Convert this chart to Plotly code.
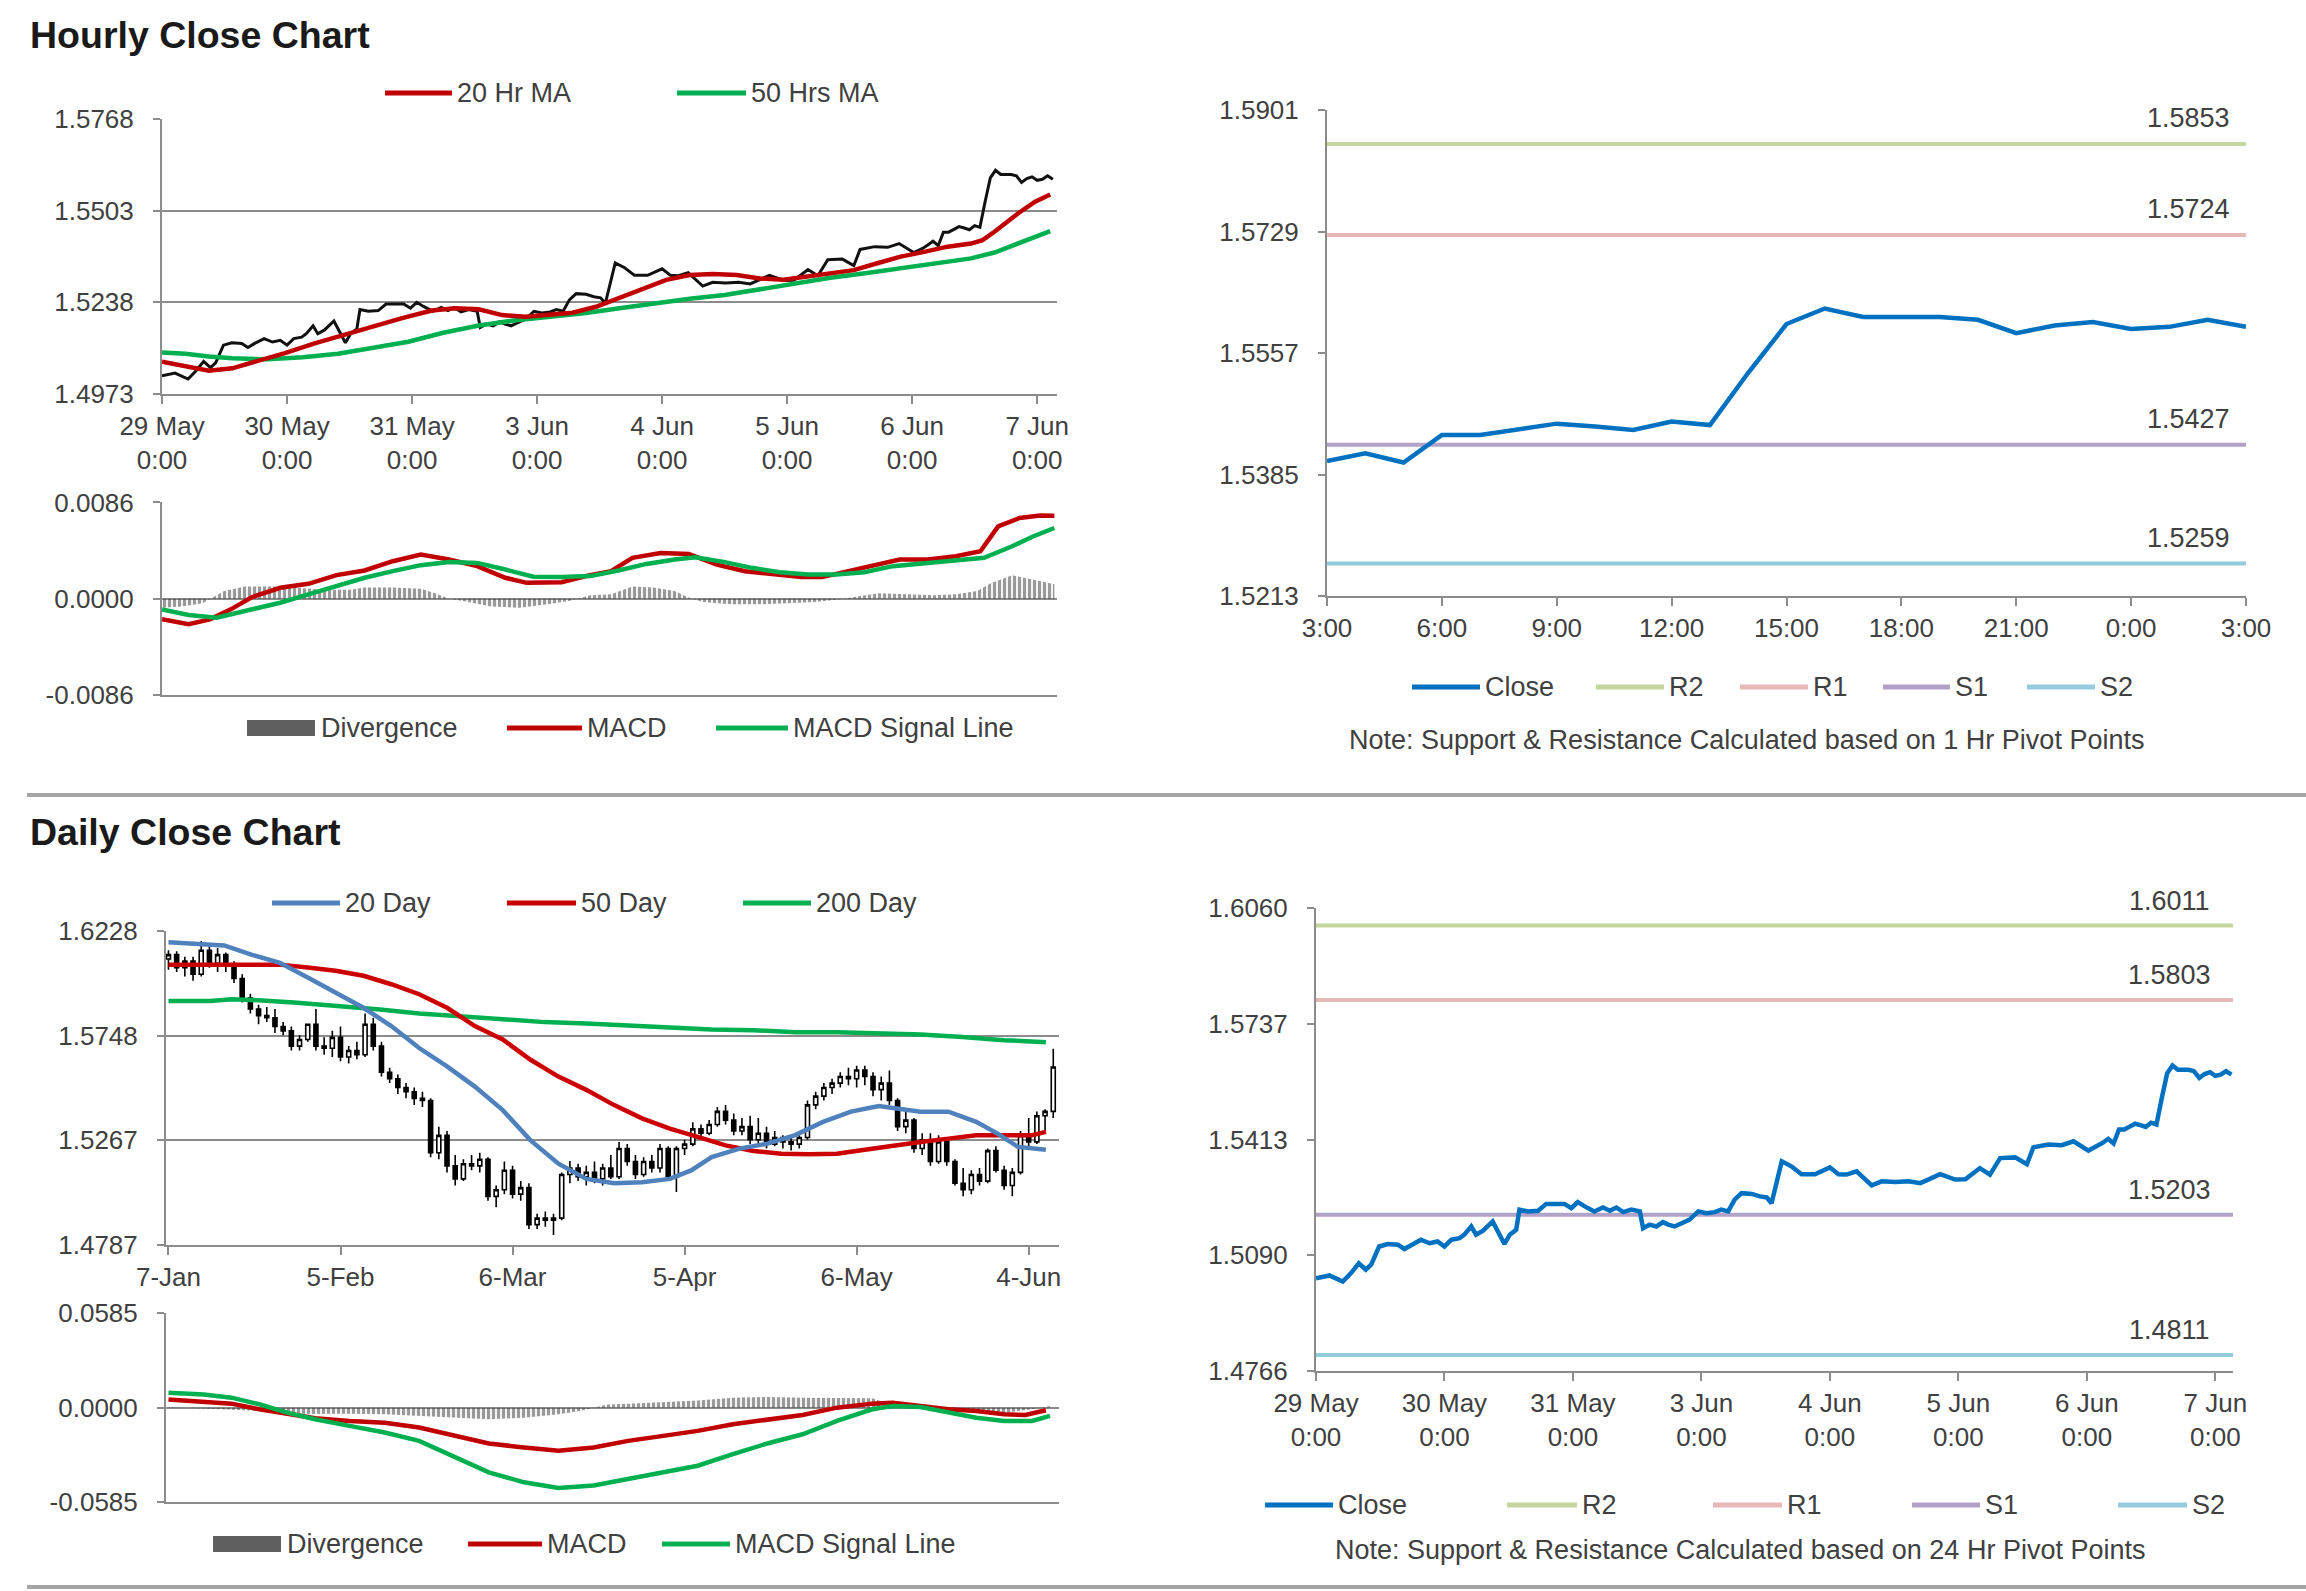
import plotly.graph_objects as go

W, H = 2306, 1591
FONT = "Liberation Sans, Arial, sans-serif"
TXT = "#404040"
GRID = "#8c8c8c"
AXIS = "#8c8c8c"

# ---------------- Hourly data (29 May 0:00 .. 7 Jun 3:00, trading-hour index) -------------
HOURLY_TICKS = [0, 24, 48, 72, 96, 120, 144, 168]
HOURLY_TICK_TEXT = ["29 May<br>0:00", "30 May<br>0:00", "31 May<br>0:00", "3 Jun<br>0:00",
                    "4 Jun<br>0:00", "5 Jun<br>0:00", "6 Jun<br>0:00", "7 Jun<br>0:00"]

CLOSE_EARLY_HOURS = [0, 2.5, 5, 6.5, 8, 9.3, 10.3, 11.8, 13.4, 15.3, 16.5, 17.8, 19.6, 21.2, 22.7,
                     24, 25.3, 26.8, 27.7, 29, 29.9, 31.2, 33, 34.3, 35.2, 36.2, 37.4, 38, 39.6,
                     41.5, 43, 44.6, 46.4, 47.7, 48.9, 50.2, 52, 53.6, 54.9, 56.1, 57.4, 58.9,
                     60.5, 61.1, 62.3, 63.6, 64.8, 65.8, 67, 68.3, 69.8, 71.4, 72.9, 74.5, 75.7,
                     77, 78.2, 79.5, 81.4, 82.9, 84.2, 85.1, 87, 88.8, 90.7, 93.2, 96, 97.6,
                     99.1, 101, 103.8, 105.7, 108.2, 110.7, 112.9, 116.6, 119.4, 121.3, 124,
                     125.9, 127.8, 130.6, 132.8, 134, 136.8, 139.3, 141.5, 144.3, 146]
CLOSE_EARLY = [1.5025, 1.5033, 1.5016, 1.5039, 1.5067, 1.5049, 1.5063, 1.5114, 1.5121, 1.5119,
               1.5107, 1.5119, 1.5133, 1.5123, 1.5128, 1.5114, 1.5133, 1.5137, 1.5147, 1.5170,
               1.5147, 1.5158, 1.5184, 1.5147, 1.5121, 1.5147, 1.5161, 1.5217, 1.5212, 1.5214,
               1.5233, 1.5233, 1.5233, 1.5221, 1.5238, 1.5226, 1.5212, 1.5223, 1.5214, 1.5223,
               1.5210, 1.5217, 1.5212, 1.5165, 1.5175, 1.5170, 1.5182, 1.5175, 1.5170, 1.5179,
               1.5189, 1.5212, 1.5207, 1.5210, 1.5217, 1.5212, 1.5245, 1.5263, 1.5261, 1.5254,
               1.5251, 1.5235, 1.5352, 1.5338, 1.5316, 1.5316, 1.5335, 1.5316, 1.5315, 1.5324,
               1.5285, 1.5296, 1.5294, 1.5296, 1.5291, 1.5316, 1.5301, 1.5302, 1.5333, 1.5315,
               1.5361, 1.5363, 1.5344, 1.5391, 1.5399, 1.5397, 1.5408, 1.5382, 1.5394]

# last 24 hours (6 Jun 3:00 .. 7 Jun 3:00), hour index 147..171
CLOSE_1H_HOURS = list(range(147, 172))
CLOSE_1H = [1.5404, 1.5415, 1.5402, 1.5441, 1.5441, 1.5449, 1.5457, 1.5453, 1.5448, 1.5460,
            1.5455, 1.5529, 1.5598, 1.5620, 1.5608, 1.5608, 1.5608, 1.5604, 1.5585, 1.5596,
            1.5601, 1.5591, 1.5594, 1.5604, 1.5594]

MA20_H_HOURS = [0, 4.5, 9, 13.5, 18, 23.6, 29.3, 34.9, 40.5, 46.1, 51.8, 56.3, 60.8, 65.3, 69.8,
                74.3, 78.8, 83.3, 87.8, 92.3, 96.8, 101.3, 105.8, 110.3, 114.8, 119.3, 123.8,
                128.3, 132.8, 137.3, 141.8, 146.3, 150.8, 155.3, 157.5, 159.8, 164.3, 167.6, 170.5]
MA20_H = [1.5066, 1.5052, 1.5040, 1.5047, 1.5066, 1.5091, 1.5119, 1.5144, 1.5168, 1.5192,
          1.5214, 1.5221, 1.5218, 1.5201, 1.5196, 1.5201, 1.5208, 1.5225, 1.5250, 1.5278,
          1.5303, 1.5317, 1.5320, 1.5317, 1.5307, 1.5303, 1.5312, 1.5322, 1.5331, 1.5351,
          1.5370, 1.5384, 1.5399, 1.5408, 1.5418, 1.5442, 1.5495, 1.5529, 1.5550]

MA50_H_HOURS = [0, 4.5, 9, 13.5, 20.3, 27, 33.8, 40.5, 47.3, 54, 60.8, 67.5, 74.3, 81, 87.8,
                94.5, 101.3, 108, 114.8, 121.5, 128.3, 135, 141.8, 148.5, 155.3, 159.8, 164.3,
                167.6, 170.5]
MA50_H = [1.5093, 1.5089, 1.5081, 1.5076, 1.5073, 1.5079, 1.5089, 1.5105, 1.5124, 1.5150,
          1.5171, 1.5185, 1.5195, 1.5206, 1.5221, 1.5235, 1.5248, 1.5259, 1.5276, 1.5293,
          1.5309, 1.5322, 1.5336, 1.5349, 1.5365, 1.5382, 1.5408, 1.5430, 1.5444]

MACD_H_HOURS = [0, 5.1, 9.2, 13.2, 17.3, 22.7, 28.1, 33.5, 38.9, 44.3, 49.7, 55.1, 60.5, 65.9,
                70, 76.7, 82.2, 86.2, 90.3, 95.7, 101.1, 106.5, 111.9, 117.3, 122.7, 126.7,
                130.8, 136.2, 141.6, 147, 152.4, 157.1, 160.5, 164.6, 168.6, 171.3]
MACD_H = [-0.00184, -0.00228, -0.00184, -0.00095, 0.00015, 0.00098, 0.00133, 0.00211, 0.00252,
          0.00335, 0.00394, 0.00350, 0.00291, 0.00187, 0.00142, 0.00148, 0.00211, 0.00246,
          0.00365, 0.00409, 0.00400, 0.00305, 0.00246, 0.00222, 0.00193, 0.00193, 0.00237,
          0.00300, 0.00350, 0.00350, 0.00380, 0.00424, 0.00646, 0.00721, 0.00744, 0.00741]

SIGNAL_H_HOURS = [0, 5.1, 10.5, 15.9, 22.7, 28.1, 33.5, 38.9, 44.3, 49.7, 55.1, 60.5, 65.9,
                  71.3, 76.7, 82.2, 87.6, 93, 98.4, 102.4, 107.8, 113.2, 118.6, 124, 129.4,
                  134.8, 140.3, 147, 152.4, 157.8, 163.2, 167.3, 171.3]
SIGNAL_H = [-0.00095, -0.00145, -0.00169, -0.00110, -0.00036, 0.00039, 0.00113, 0.00187,
            0.00246, 0.00300, 0.00329, 0.00320, 0.00261, 0.00196, 0.00193, 0.00202, 0.00252,
            0.00311, 0.00350, 0.00371, 0.00329, 0.00276, 0.00237, 0.00216, 0.00216, 0.00237,
            0.00291, 0.00320, 0.00341, 0.00365, 0.00469, 0.00558, 0.00632]

DIV_H_HOURS = [0, 3.8, 7.8, 11.9, 15.9, 22.7, 25.4, 30.8, 36.2, 38.9, 44.3, 49.7, 52.4, 55.1,
               57.8, 63.2, 68.6, 74, 78.1, 82.2, 86.2, 90.3, 94.3, 98.4, 101.1, 103.8, 109.2,
               114.6, 120, 125.4, 129.4, 133.5, 137.5, 143, 148.4, 152.4, 156.5, 159.2, 163.2,
               167.3, 171.3]
DIV_H = [-0.0008, -0.0007, -0.0004, 0.0007, 0.0011, 0.0011, 0.0010, 0.0008, 0.0008, 0.0010,
         0.0010, 0.0009, 0.0005, 0.0000, -0.0002, -0.0007, -0.0008, -0.0005, -0.0002, 0.0003,
         0.0004, 0.0011, 0.0010, 0.0007, 0.0001, -0.0003, -0.0005, -0.0005, -0.0004, -0.0003,
         -0.0001, 0.0002, 0.0005, 0.0004, 0.0003, 0.0004, 0.0007, 0.0014, 0.0021, 0.0017, 0.0013]

# 1 Hr pivot chart
PIVOT_1H_TICKS = [0, 3, 6, 9, 12, 15, 18, 21, 24]
PIVOT_1H_TICK_TEXT = ["3:00", "6:00", "9:00", "12:00", "15:00", "18:00", "21:00", "0:00", "3:00"]
PIVOT_1H_X = list(range(25))
LEVELS_1H = {"R2": 1.5853, "R1": 1.5724, "S1": 1.5427, "S2": 1.5259}
LEVELS_24H = {"R2": 1.6011, "R1": 1.5803, "S1": 1.5203, "S2": 1.4811}

# ---------------- Daily data (trading-day index, 7-Jan .. 6-Jun) ----------------
DAILY_TICKS = [0, 21, 42, 63, 84, 105]
DAILY_TICK_TEXT = ["7-Jan", "5-Feb", "6-Mar", "5-Apr", "6-May", "4-Jun"]

D_OPEN = [1.6100, 1.6120, 1.6060, 1.6090, 1.6030, 1.6140, 1.6080, 1.6120, 1.6070, 1.6010,
          1.5920, 1.5870, 1.5840, 1.5830, 1.5790, 1.5770, 1.5700, 1.5730, 1.5800, 1.5700,
          1.5690, 1.5740, 1.5650, 1.5680, 1.5660, 1.5800, 1.5700, 1.5580, 1.5550, 1.5510,
          1.5490, 1.5460, 1.5450, 1.5210, 1.5290, 1.5150, 1.5090, 1.5160, 1.5150, 1.5180,
          1.5010, 1.5040, 1.5130, 1.5020, 1.5050, 1.4880, 1.4910, 1.4900, 1.4910, 1.5110,
          1.5140, 1.5100, 1.5120, 1.5090, 1.5140, 1.5100, 1.5230, 1.5170, 1.5110, 1.5170,
          1.5140, 1.5230, 1.5100, 1.5230, 1.5250, 1.5320, 1.5300, 1.5340, 1.5400, 1.5360,
          1.5310, 1.5330, 1.5270, 1.5300, 1.5250, 1.5280, 1.5260, 1.5250, 1.5280, 1.5430,
          1.5470, 1.5510, 1.5530, 1.5560, 1.5550, 1.5590, 1.5560, 1.5500, 1.5530, 1.5450,
          1.5330, 1.5360, 1.5230, 1.5270, 1.5170, 1.5260, 1.5170, 1.5070, 1.5040, 1.5110,
          1.5080, 1.5220, 1.5130, 1.5060, 1.5120, 1.5290, 1.5260, 1.5380, 1.5400]
D_HIGH = [1.6140, 1.6135, 1.6110, 1.6110, 1.6182, 1.6160, 1.6150, 1.6130, 1.6090, 1.6030,
          1.5940, 1.5890, 1.5880, 1.5870, 1.5810, 1.5790, 1.5750, 1.5800, 1.5870, 1.5740,
          1.5770, 1.5790, 1.5700, 1.5720, 1.5850, 1.5830, 1.5720, 1.5600, 1.5570, 1.5530,
          1.5510, 1.5490, 1.5460, 1.5330, 1.5310, 1.5200, 1.5180, 1.5200, 1.5210, 1.5190,
          1.5060, 1.5170, 1.5150, 1.5080, 1.5070, 1.4930, 1.4940, 1.4930, 1.5120, 1.5172,
          1.5160, 1.5150, 1.5170, 1.5160, 1.5200, 1.5260, 1.5250, 1.5200, 1.5190, 1.5200,
          1.5250, 1.5240, 1.5240, 1.5270, 1.5350, 1.5340, 1.5360, 1.5420, 1.5430, 1.5390,
          1.5370, 1.5380, 1.5370, 1.5330, 1.5310, 1.5290, 1.5280, 1.5290, 1.5450, 1.5490,
          1.5530, 1.5550, 1.5580, 1.5600, 1.5610, 1.5610, 1.5580, 1.5560, 1.5588, 1.5460,
          1.5400, 1.5370, 1.5300, 1.5300, 1.5290, 1.5270, 1.5180, 1.5140, 1.5130, 1.5140,
          1.5230, 1.5240, 1.5150, 1.5140, 1.5310, 1.5370, 1.5400, 1.5410, 1.5688]
D_LOW = [1.6050, 1.6040, 1.6020, 1.6000, 1.6020, 1.6060, 1.6040, 1.6040, 1.5990, 1.5900,
         1.5850, 1.5800, 1.5810, 1.5760, 1.5750, 1.5680, 1.5680, 1.5720, 1.5680, 1.5660,
         1.5650, 1.5630, 1.5620, 1.5640, 1.5650, 1.5680, 1.5560, 1.5530, 1.5480, 1.5460,
         1.5430, 1.5420, 1.5190, 1.5180, 1.5120, 1.5060, 1.5080, 1.5130, 1.5120, 1.4990,
         1.4960, 1.5020, 1.5000, 1.4990, 1.4860, 1.4860, 1.4870, 1.4833, 1.4900, 1.5070,
         1.5080, 1.5060, 1.5070, 1.5060, 1.5090, 1.5090, 1.5150, 1.5090, 1.5100, 1.5120,
         1.5120, 1.5090, 1.5030, 1.5200, 1.5240, 1.5270, 1.5290, 1.5330, 1.5340, 1.5290,
         1.5290, 1.5250, 1.5240, 1.5230, 1.5240, 1.5230, 1.5220, 1.5230, 1.5270, 1.5410,
         1.5450, 1.5480, 1.5510, 1.5520, 1.5510, 1.5520, 1.5470, 1.5450, 1.5430, 1.5310,
         1.5300, 1.5210, 1.5200, 1.5150, 1.5160, 1.5150, 1.5060, 1.5010, 1.5020, 1.5060,
         1.5070, 1.5120, 1.5040, 1.5010, 1.5110, 1.5230, 1.5250, 1.5310, 1.5370]
D_CLOSE = [1.6120, 1.6060, 1.6090, 1.6030, 1.6140, 1.6080, 1.6120, 1.6070, 1.6010, 1.5920,
           1.5870, 1.5840, 1.5830, 1.5790, 1.5770, 1.5700, 1.5730, 1.5800, 1.5700, 1.5690,
           1.5740, 1.5650, 1.5680, 1.5660, 1.5800, 1.5700, 1.5580, 1.5550, 1.5510, 1.5490,
           1.5460, 1.5450, 1.5210, 1.5290, 1.5150, 1.5090, 1.5160, 1.5150, 1.5180, 1.5010,
           1.5040, 1.5130, 1.5020, 1.5050, 1.4880, 1.4910, 1.4900, 1.4910, 1.5110, 1.5140,
           1.5100, 1.5120, 1.5090, 1.5140, 1.5100, 1.5230, 1.5170, 1.5110, 1.5170, 1.5140,
           1.5230, 1.5100, 1.5230, 1.5250, 1.5320, 1.5300, 1.5340, 1.5400, 1.5360, 1.5310,
           1.5330, 1.5270, 1.5300, 1.5250, 1.5280, 1.5260, 1.5250, 1.5280, 1.5430, 1.5470,
           1.5510, 1.5530, 1.5560, 1.5550, 1.5590, 1.5560, 1.5500, 1.5530, 1.5450, 1.5330,
           1.5360, 1.5230, 1.5270, 1.5170, 1.5260, 1.5170, 1.5070, 1.5040, 1.5110, 1.5080,
           1.5220, 1.5130, 1.5060, 1.5120, 1.5290, 1.5260, 1.5380, 1.5400, 1.5604]

MA20_D_X = [0, 3.4, 6.8, 10.2, 13.6, 17, 20.4, 23.8, 27.2, 30.6, 34, 37.4, 40.8, 44.2, 47.6, 51,
            54.4, 57.8, 61.2, 63.8, 66.3, 69.7, 73.1, 76.5, 79.9, 83.3, 86.7, 89.3, 91.8, 95.2,
            98.6, 101.2, 103.7, 107.1]
MA20_D = [1.6177, 1.6169, 1.6162, 1.6119, 1.6082, 1.6015, 1.5946, 1.5876, 1.5792, 1.5691,
          1.5607, 1.5514, 1.5406, 1.5267, 1.5160, 1.5090, 1.5070, 1.5075, 1.5090, 1.5129,
          1.5190, 1.5229, 1.5252, 1.5291, 1.5352, 1.5399, 1.5425, 1.5414, 1.5399, 1.5399,
          1.5352, 1.5298, 1.5237, 1.5224]
MA50_D_X = [0, 5.1, 10.2, 13.6, 17, 20.4, 23.8, 27.2, 30.6, 34, 37.4, 40.8, 44.2, 47.6, 51,
            54.4, 57.8, 61.2, 64.6, 68, 71.4, 74.8, 78.2, 81.6, 85, 88.4, 91.8, 95.2, 98.6, 102,
            105.4, 107.1]
MA50_D = [1.6074, 1.6074, 1.6074, 1.6074, 1.6061, 1.6046, 1.6023, 1.5984, 1.5938, 1.5876,
          1.5792, 1.5730, 1.5637, 1.5560, 1.5499, 1.5429, 1.5368, 1.5321, 1.5283, 1.5244,
          1.5218, 1.5206, 1.5203, 1.5206, 1.5224, 1.5244, 1.5260, 1.5275, 1.5291, 1.5291,
          1.5291, 1.5306]
MA200_D_X = [0, 5.1, 7.7, 10.2, 15.3, 20.4, 25.5, 30.6, 35.7, 40.8, 45.9, 51, 56.1, 61.2, 66.3,
             71.4, 76.5, 81.6, 86.7, 91.8, 96.9, 102, 107.1]
MA200_D = [1.5907, 1.5907, 1.5915, 1.5912, 1.5900, 1.5887, 1.5869, 1.5850, 1.5838, 1.5826,
           1.5810, 1.5804, 1.5795, 1.5787, 1.5776, 1.5773, 1.5764, 1.5764, 1.5761, 1.5753,
           1.5742, 1.5727, 1.5718]

MACD_D_X = [0, 4.3, 7.7, 11.1, 14.5, 17.9, 22.1, 26.4, 30.6, 34.9, 39.1, 43.4, 47.6, 51.9,
            56.1, 60.4, 64.6, 68.9, 73.1, 77.4, 81.6, 85.9, 88.4, 91.8, 95.2, 98.6, 102, 104.6,
            107.1]
MACD_D = [0.0051, 0.0037, 0.0025, -0.0010, -0.0041, -0.0066, -0.0082, -0.0093, -0.0123,
          -0.0175, -0.0222, -0.0247, -0.0267, -0.0247, -0.0206, -0.0175, -0.0144, -0.0103,
          -0.0072, -0.0045, 0.0000, 0.0025, 0.0031, 0.0010, -0.0010, -0.0021, -0.0041,
          -0.0045, -0.0016]
SIGNAL_D_X = [0, 4.3, 7.7, 11.1, 14.5, 17.9, 22.1, 26.4, 30.6, 34.9, 39.1, 43.4, 47.6, 51.9,
              56.1, 60.4, 64.6, 68.9, 73.1, 77.4, 81.6, 85.9, 88.4, 91.8, 95.2, 98.6, 102, 105.4,
              107.6]
SIGNAL_D = [0.0093, 0.0082, 0.0062, 0.0021, -0.0031, -0.0072, -0.0113, -0.0154, -0.0206,
            -0.0308, -0.0401, -0.0463, -0.0498, -0.0483, -0.0442, -0.0395, -0.0360, -0.0288,
            -0.0222, -0.0165, -0.0082, -0.0010, 0.0010, 0.0004, -0.0031, -0.0062, -0.0082,
            -0.0082, -0.0051]
DIV_D_X = [0, 7.7, 11.1, 13.6, 17.9, 22.1, 26.4, 30.6, 34.9, 39.1, 43.4, 47.6, 50.2, 53.6,
           56.1, 60.4, 64.6, 68.9, 73.1, 77.4, 81.6, 85.9, 88.4, 91.8, 95.2, 98.6, 102, 105.4,
           107.6]
DIV_D = [0.0004, -0.0010, -0.0020, -0.0040, -0.0037, -0.0037, -0.0041, -0.0051, -0.0062,
         -0.0072, -0.0062, -0.0041, -0.0020, 0.0020, 0.0025, 0.0037, 0.0045, 0.0062, 0.0066,
         0.0062, 0.0062, 0.0058, 0.0016, 0.0004, -0.0016, -0.0025, -0.0031, -0.0010, 0.0010]

# ---------------- colours ----------------
RED = "#c00000"
GREEN = "#00b050"
BLUE20 = "#4f81bd"
CLOSE_BLUE = "#0070c0"
LEVEL_COLORS = {"R2": "#c3d69b", "R1": "#e6b9b8", "S1": "#b3a2c7", "S2": "#93cddd"}
DIV_GRAY = "#333333"


def dom_x(a, b):
    return [a / W, b / W]


def dom_y(top, bottom):
    return [1 - bottom / H, 1 - top / H]


fig = go.Figure()


def line(x, y, color, width, ax, name):
    fig.add_trace(go.Scatter(x=x, y=y, mode="lines", name=name, showlegend=False,
                             line=dict(color=color, width=width),
                             xaxis="x" + ax, yaxis="y" + ax))


def divergence(x, y, ax):
    fig.add_trace(go.Scatter(x=x, y=y, mode="lines", name="Divergence", showlegend=False,
                             fill="tozeroy", fillcolor="rgba(255,255,255,0)",
                             fillpattern=dict(shape="|", fgcolor=DIV_GRAY, size=5, solidity=0.65),
                             line=dict(width=0, color=DIV_GRAY),
                             xaxis="x" + ax, yaxis="y" + ax))


# Panel 1: hourly price
close_hours = CLOSE_EARLY_HOURS + CLOSE_1H_HOURS
close_vals = CLOSE_EARLY + CLOSE_1H
line(close_hours, close_vals, "#111111", 3, "", "Hourly Close")
line(MA50_H_HOURS, MA50_H, GREEN, 4.5, "", "50 Hrs MA")
line(MA20_H_HOURS, MA20_H, RED, 4.5, "", "20 Hr MA")

# Panel 2: hourly MACD
divergence(DIV_H_HOURS, DIV_H, "2")
line(MACD_H_HOURS, MACD_H, RED, 4.5, "2", "MACD")
line(SIGNAL_H_HOURS, SIGNAL_H, GREEN, 4.5, "2", "MACD Signal Line")

# Panel 3: 1 hr pivot
for k in ["R2", "R1", "S1", "S2"]:
    line([PIVOT_1H_X[0], PIVOT_1H_X[-1]], [LEVELS_1H[k], LEVELS_1H[k]], LEVEL_COLORS[k], 4, "3", k)
line(PIVOT_1H_X, CLOSE_1H, CLOSE_BLUE, 4.5, "3", "Close")

# Panel 4: daily candles + MAs
fig.add_trace(go.Candlestick(x=list(range(len(D_CLOSE))), open=D_OPEN, high=D_HIGH, low=D_LOW,
                             close=D_CLOSE, showlegend=False, whiskerwidth=0,
                             increasing=dict(line=dict(color="black", width=1.6), fillcolor="white"),
                             decreasing=dict(line=dict(color="black", width=1.6), fillcolor="black"),
                             xaxis="x4", yaxis="y4"))
line(MA200_D_X, MA200_D, GREEN, 4.5, "4", "200 Day")
line(MA50_D_X, MA50_D, "#cc0000", 4.5, "4", "50 Day")
line(MA20_D_X, MA20_D, BLUE20, 4.5, "4", "20 Day")

# Panel 5: daily MACD
divergence(DIV_D_X, DIV_D, "5")
line(MACD_D_X, MACD_D, RED, 4.5, "5", "MACD")
line(SIGNAL_D_X, SIGNAL_D, GREEN, 4.5, "5", "MACD Signal Line")

# Panel 6: 24 hr pivot
for k in ["R2", "R1", "S1", "S2"]:
    line([0, 171.3], [LEVELS_24H[k], LEVELS_24H[k]], LEVEL_COLORS[k], 4, "6", k)
line(close_hours, close_vals, CLOSE_BLUE, 4.5, "6", "Close")


def xaxis(domain, anchor, rng, tickvals=None, ticktext=None, labels=True, showline=True, **kw):
    d = dict(domain=domain, anchor=anchor, range=rng, showgrid=False, zeroline=False,
             showline=showline, linecolor=AXIS, linewidth=2, automargin=False,
             ticks="outside" if labels else "", tickcolor=AXIS, tickwidth=2, ticklen=8,
             tickvals=tickvals, ticktext=ticktext, showticklabels=labels,
             tickfont=dict(family=FONT, size=26, color=TXT), fixedrange=True)
    d.update(kw)
    return d


def yaxis(domain, anchor, rng, tickvals, ticktext, grid=True, **kw):
    d = dict(domain=domain, anchor=anchor, range=rng, showgrid=grid, gridcolor=GRID, gridwidth=2,
             zeroline=False, showline=True, linecolor=AXIS, linewidth=2, automargin=False,
             ticks="outside", tickcolor=AXIS, tickwidth=2, ticklen=7,
             tickvals=tickvals, ticktext=ticktext, ticklabelstandoff=14,
             tickfont=dict(family=FONT, size=26, color=TXT), fixedrange=True)
    d.update(kw)
    return d


EPS = 0.00004
fig.update_layout(
    width=W, height=H, margin=dict(l=0, r=0, t=0, b=0, autoexpand=False),
    paper_bgcolor="white", plot_bgcolor="white", showlegend=False,
    xaxis=xaxis(dom_x(162, 1057), "y", [0, 171.8], HOURLY_TICKS, HOURLY_TICK_TEXT),
    yaxis=yaxis(dom_y(119, 394), "x", [1.4973 - EPS, 1.5768 + EPS],
                [1.4973, 1.5238, 1.5503, 1.5768], ["1.4973", "1.5238", "1.5503", "1.5768"]),
    xaxis2=xaxis(dom_x(162, 1057), "y2", [0, 171.8], labels=False, showline=True),
    yaxis2=yaxis(dom_y(502, 695), "x2", [-0.0086, 0.0086 + EPS],
                 [-0.0086, 0.0, 0.0086], ["-0.0086", "0.0000", "0.0086"]),
    xaxis3=xaxis(dom_x(1327, 2246), "y3", [0, 24], PIVOT_1H_TICKS, PIVOT_1H_TICK_TEXT),
    yaxis3=yaxis(dom_y(110, 596), "x3", [1.5213, 1.5901],
                 [1.5213, 1.5385, 1.5557, 1.5729, 1.5901],
                 ["1.5213", "1.5385", "1.5557", "1.5729", "1.5901"], grid=False),
    xaxis4=xaxis(dom_x(166, 1059), "y4", [-0.3, 108.7], DAILY_TICKS, DAILY_TICK_TEXT,
                 rangeslider=dict(visible=False)),
    yaxis4=yaxis(dom_y(931, 1245), "x4", [1.4787 - EPS, 1.6228 + EPS],
                 [1.4787, 1.5267, 1.5748, 1.6228], ["1.4787", "1.5267", "1.5748", "1.6228"]),
    xaxis5=xaxis(dom_x(166, 1059), "y5", [-0.3, 108.7], labels=False, showline=True),
    yaxis5=yaxis(dom_y(1313, 1502), "x5", [-0.0585, 0.0585 + 0.0002],
                 [-0.0585, 0.0, 0.0585], ["-0.0585", "0.0000", "0.0585"]),
    xaxis6=xaxis(dom_x(1316, 2233), "y6", [0, 171.3], HOURLY_TICKS, HOURLY_TICK_TEXT),
    yaxis6=yaxis(dom_y(908, 1371), "x6", [1.4766, 1.6060],
                 [1.4766, 1.5090, 1.5413, 1.5737, 1.6060],
                 ["1.4766", "1.5090", "1.5413", "1.5737", "1.6060"], grid=False),
)

annotations = []
shapes = []


def txt(x, y, s, size=26, anchor="left", bold=False, color=TXT):
    annotations.append(dict(xref="paper", yref="paper", x=x / W, y=1 - y / H, text=s,
                            showarrow=False, xanchor=anchor, yanchor="middle",
                            font=dict(family=FONT, size=size, color=color,
                                      weight="bold" if bold else "normal")))


def leg_line(x0, x1, y, color, label):
    shapes.append(dict(type="line", xref="paper", yref="paper", x0=x0 / W, x1=x1 / W,
                       y0=1 - y / H, y1=1 - y / H, line=dict(color=color, width=5)))
    txt(x1 + 3, y, label, size=27)


def leg_box(x0, x1, y, label):
    shapes.append(dict(type="rect", xref="paper", yref="paper", x0=x0 / W, x1=x1 / W,
                       y0=1 - (y + 8) / H, y1=1 - (y - 8) / H, fillcolor="#5f5f5f",
                       line=dict(width=0)))
    txt(x1 + 4, y, label, size=27)


# titles
txt(28, 35, "Hourly Close Chart", size=37.5, bold=True, color="#1a1a1a")
txt(28, 832, "Daily Close Chart", size=37.5, bold=True, color="#1a1a1a")

# separators
shapes.append(dict(type="line", xref="paper", yref="paper", x0=27 / W, x1=1.0,
                   y0=1 - 795 / H, y1=1 - 795 / H, line=dict(color="#a6a6a6", width=4)))
shapes.append(dict(type="line", xref="paper", yref="paper", x0=27 / W, x1=1.0,
                   y0=1 - 1587 / H, y1=1 - 1587 / H, line=dict(color="#a6a6a6", width=4)))

# legends
leg_line(385, 452, 93, RED, "20 Hr MA")
leg_line(677, 746, 93, GREEN, "50 Hrs MA")
leg_box(247, 315, 728, "Divergence")
leg_line(507, 582, 728, RED, "MACD")
leg_line(716, 788, 728, GREEN, "MACD Signal Line")
leg_line(1412, 1480, 687, CLOSE_BLUE, "Close")
leg_line(1596, 1664, 687, LEVEL_COLORS["R2"], "R2")
leg_line(1740, 1808, 687, LEVEL_COLORS["R1"], "R1")
leg_line(1883, 1950, 687, LEVEL_COLORS["S1"], "S1")
leg_line(2027, 2095, 687, LEVEL_COLORS["S2"], "S2")
txt(1746, 740, "Note: Support &amp; Resistance Calculated based on 1 Hr Pivot Points", size=27,
    anchor="center")

leg_line(272, 340, 903, BLUE20, "20 Day")
leg_line(507, 576, 903, "#cc0000", "50 Day")
leg_line(743, 811, 903, GREEN, "200 Day")
leg_box(213, 281, 1544, "Divergence")
leg_line(468, 542, 1544, RED, "MACD")
leg_line(662, 730, 1544, GREEN, "MACD Signal Line")
leg_line(1265, 1333, 1505, CLOSE_BLUE, "Close")
leg_line(1507, 1577, 1505, LEVEL_COLORS["R2"], "R2")
leg_line(1713, 1782, 1505, LEVEL_COLORS["R1"], "R1")
leg_line(1912, 1980, 1505, LEVEL_COLORS["S1"], "S1")
leg_line(2118, 2187, 1505, LEVEL_COLORS["S2"], "S2")
txt(1740, 1550, "Note: Support &amp; Resistance Calculated based on 24 Hr Pivot Points", size=27,
    anchor="center")

# pivot data labels
for k, v in LEVELS_1H.items():
    annotations.append(dict(xref="x3", yref="y3", x=22.5, y=v, text=f"{v:.4f}", showarrow=False,
                            xanchor="center", yanchor="middle", yshift=26,
                            font=dict(family=FONT, size=27, color=TXT)))
for k, v in LEVELS_24H.items():
    annotations.append(dict(xref="x6", yref="y6", x=159.5, y=v, text=f"{v:.4f}", showarrow=False,
                            xanchor="center", yanchor="middle", yshift=25,
                            font=dict(family=FONT, size=27, color=TXT)))

fig.update_layout(annotations=annotations, shapes=shapes)

fig.write_html("out.html", include_plotlyjs=True,
               config={"displayModeBar": False},
               post_script="document.body.style.margin='0';document.body.style.overflow='hidden';")
